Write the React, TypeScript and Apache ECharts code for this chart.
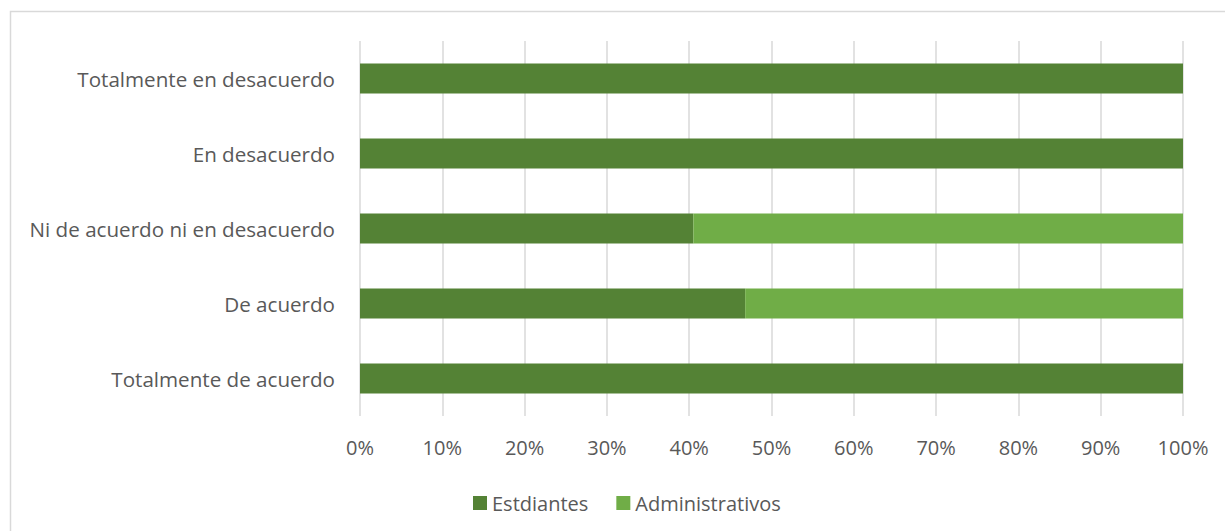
import React, { useEffect, useRef } from "react";
import * as echarts from "echarts";

const categories = [
  "Totalmente de acuerdo",
  "De acuerdo",
  "Ni de acuerdo ni en desacuerdo",
  "En desacuerdo",
  "Totalmente en desacuerdo",
];
const estudiantes = [100, 46.8, 40.5, 100, 100];
const administrativos = [0, 53.2, 59.5, 0, 0];
const seriesNames = ["Estdiantes", "Administrativos"];
const xTicks = [0, 10, 20, 30, 40, 50, 60, 70, 80, 90, 100];

const FONT = "'Open Sans', sans-serif";
const TEXT = "#595959";

export default function App() {
  const ref = useRef<HTMLDivElement>(null);
  useEffect(() => {
    if (!ref.current) return;
    const chart = echarts.init(ref.current, undefined, { renderer: "svg" });
    chart.setOption({
      animation: false,
      backgroundColor: "#ffffff",
      textStyle: { fontFamily: FONT },
      graphic: [
        {
          type: "rect",
          shape: { x: 10.5, y: 11.5, width: 1300, height: 600 },
          style: { fill: "none", stroke: "#d9d9d9", lineWidth: 1.5 },
          silent: true,
          z: -1,
        },
      ],
      grid: { left: 360, right: 42, top: 41, bottom: 115, containLabel: false },
      legend: {
        left: 468,
        top: 488,
        itemWidth: 14,
        itemHeight: 14,
        itemGap: 28,
        icon: "rect",
        data: seriesNames,
        textStyle: { color: TEXT, fontSize: 20, fontFamily: FONT },
      },
      xAxis: {
        type: "value",
        min: xTicks[0],
        max: xTicks[xTicks.length - 1],
        interval: 10,
        axisLine: { show: false },
        axisTick: { show: false },
        splitLine: { show: true, lineStyle: { color: "#d9d9d9", width: 1.5 } },
        axisLabel: {
          color: TEXT,
          fontSize: 20,
          fontFamily: FONT,
          margin: 21,
          formatter: (v: number) => `${v}%`,
        },
      },
      yAxis: {
        type: "category",
        data: categories,
        axisLine: { show: false },
        axisTick: { show: false },
        axisLabel: { color: TEXT, fontSize: 20.6, fontFamily: FONT, margin: 25 },
      },
      series: [
        {
          name: seriesNames[0],
          type: "bar",
          stack: "total",
          barWidth: 30,
          data: estudiantes,
          itemStyle: { color: "#548235" },
        },
        {
          name: seriesNames[1],
          type: "bar",
          stack: "total",
          barWidth: 30,
          data: administrativos,
          itemStyle: { color: "#70ad47" },
        },
      ],
    });
    return () => chart.dispose();
  }, []);
  return (
    <div
      ref={ref}
      style={{ position: "fixed", left: 0, top: 0, width: 1225, height: 531 }}
    />
  );
}
